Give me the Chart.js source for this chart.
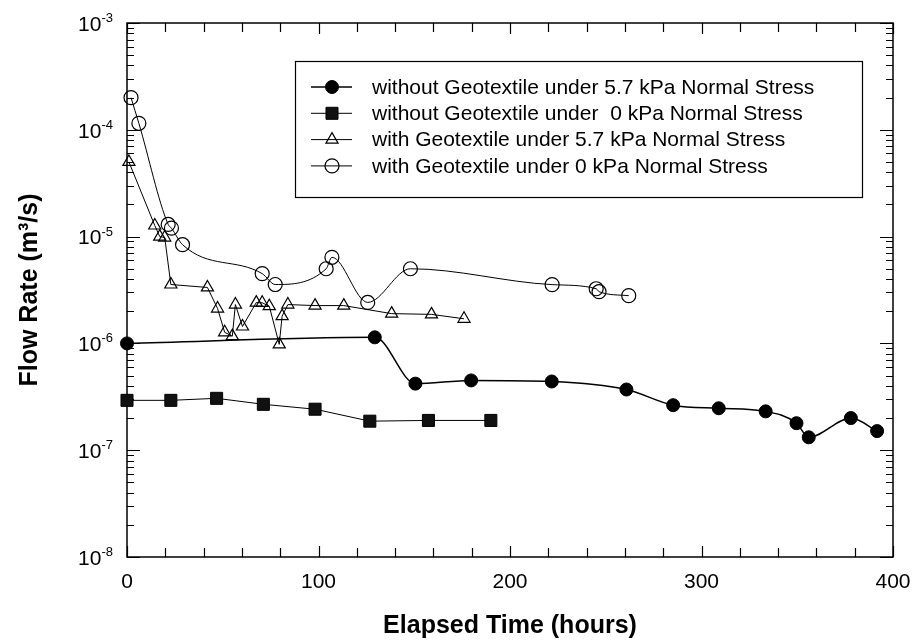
<!DOCTYPE html>
<html><head><meta charset="utf-8">
<script src="https://cdn.jsdelivr.net/npm/chart.js@4.4.1/dist/chart.umd.min.js"></script>
<style>html,body{margin:0;padding:0;background:#fff}#wrap{width:915px;height:640px}</style>
</head><body><div id="wrap"><canvas id="c" width="915" height="640"></canvas></div>
<script>
// ---- data ----
const seriesLabels = [
  'without Geotextile under 5.7 kPa Normal Stress',
  'without Geotextile under  0 kPa Normal Stress',
  'with Geotextile under 5.7 kPa Normal Stress',
  'with Geotextile under 0 kPa Normal Stress'
];
const hoursNoGeo57 = [0, 129.4, 150.6, 179.7, 221.8, 260.8, 285.2, 309, 333.5, 349.6, 356, 378, 391.7];
const flowNoGeo57  = [1.0e-6, 1.14e-6, 4.2e-7, 4.5e-7, 4.4e-7, 3.7e-7, 2.64e-7, 2.47e-7, 2.31e-7, 1.79e-7, 1.32e-7, 2.0e-7, 1.51e-7];

const hoursNoGeo0 = [0, 22.9, 46.8, 71.2, 98.2, 126.8, 157.4, 190];
const flowNoGeo0  = [2.93e-7, 2.93e-7, 3.06e-7, 2.69e-7, 2.42e-7, 1.87e-7, 1.9e-7, 1.9e-7];

const hoursGeo57 = [1, 14.5, 17.1, 19.7, 22.9, 42, 47.3, 51, 55, 56.6, 60.3, 67.5, 70.6, 74.3, 79.5, 81, 84, 98.2, 113.2, 138.2, 159, 176];
const flowGeo57  = [5.0e-5, 1.27e-5, 1.0e-5, 9.8e-6, 3.56e-6, 3.34e-6, 2.12e-6, 1.27e-6, 1.17e-6, 2.31e-6, 1.44e-6, 2.41e-6, 2.4e-6, 2.23e-6, 9.8e-7, 1.8e-6, 2.31e-6, 2.26e-6, 2.26e-6, 1.9e-6, 1.87e-6, 1.7e-6];

const hoursGeo0 = [2.1, 6.2, 21.5, 23.2, 29, 70.6, 77.4, 104, 107, 125.7, 148, 222, 245, 246.5, 262];
const flowGeo0  = [2.0e-4, 1.15e-4, 1.3e-5, 1.2e-5, 8.4e-6, 4.5e-6, 3.56e-6, 5.0e-6, 6.4e-6, 2.42e-6, 5.0e-6, 3.55e-6, 3.25e-6, 3.05e-6, 2.8e-6];

const xTickLabels = ['0', '100', '200', '300', '400'];
const yDecades = [-8, -7, -6, -5, -4, -3];
const xTitle = 'Elapsed Time (hours)';
const yTitle = 'Flow Rate (m\u00B3/s)';

// ---- build ----
const pts = (xs, ys) => xs.map((x, i) => ({x, y: ys[i]}));
const FONT = '"Liberation Sans", Arial, Helvetica, sans-serif';

const decor = {
  id: 'decor',
  beforeDatasetsDraw(chart) {
    const {ctx, chartArea: a, scales: {x, y}} = chart;
    ctx.save();
    ctx.strokeStyle = '#000';
    ctx.lineWidth = 1.5;
    ctx.strokeRect(a.left, a.top, a.right - a.left, a.bottom - a.top);
    ctx.lineWidth = 1.2;
    ctx.beginPath();
    // y ticks (log), inward on left and right
    for (const e of yDecades) {
      for (let k = 1; k <= 9; k++) {
        const v = k * Math.pow(10, e);
        if (v > y.max * 1.0001) break;
        const py = Math.round(y.getPixelForValue(v)) + 0.5;
        const len = k === 1 ? 13 : 7;
        ctx.moveTo(a.left, py); ctx.lineTo(a.left + len, py);
        ctx.moveTo(a.right, py); ctx.lineTo(a.right - len, py);
      }
    }
    // x ticks every 20 h, inward on bottom and top
    for (let v = x.min; v <= x.max; v += 20) {
      const px = Math.round(x.getPixelForValue(v)) + 0.5;
      const len = (v % 100 === 0) ? 11 : 9;
      ctx.moveTo(px, a.bottom); ctx.lineTo(px, a.bottom - len);
      ctx.moveTo(px, a.top); ctx.lineTo(px, a.top + len);
    }
    ctx.stroke();
    ctx.restore();
  },
  afterDraw(chart) {
    const {ctx, chartArea: a, scales: {x, y}} = chart;
    ctx.save();
    ctx.fillStyle = '#000';
    // y tick labels 10^n
    for (const e of yDecades) {
      const py = y.getPixelForValue(Math.pow(10, e));
      const sup = String(e);
      ctx.font = '13px ' + FONT;
      const ws = ctx.measureText(sup).width;
      const right = a.left - 14;
      ctx.textAlign = 'left';
      ctx.textBaseline = 'alphabetic';
      ctx.fillText(sup, right - ws, py - 1);
      ctx.font = '21px ' + FONT;
      ctx.textAlign = 'right';
      ctx.textBaseline = 'middle';
      ctx.fillText('10', right - ws, py + 2);
    }
    // x tick labels
    ctx.font = '21px ' + FONT;
    ctx.textAlign = 'center';
    ctx.textBaseline = 'middle';
    xTickLabels.forEach(t => {
      ctx.fillText(t, x.getPixelForValue(Number(t)), a.bottom + 25);
    });
    // axis titles
    ctx.font = 'bold 25px ' + FONT;
    ctx.textAlign = 'center';
    ctx.textBaseline = 'alphabetic';
    ctx.fillText(xTitle, (a.left + a.right) / 2, a.bottom + 76);
    ctx.save();
    ctx.translate(37, (a.top + a.bottom) / 2);
    ctx.rotate(-Math.PI / 2);
    ctx.fillText(yTitle, 0, 0);
    ctx.restore();
    // legend box
    const L = a.left + 168, T = a.top + 38, W = 567, H = 136;
    ctx.lineWidth = 1.2;
    ctx.strokeStyle = '#000';
    ctx.strokeRect(L + 0.5, T + 0.5, W, H);
    chart.data.datasets.forEach((ds, i) => {
      const ry = T + 26 + i * 26.3;
      ctx.beginPath();
      ctx.lineWidth = ds.borderWidth;
      ctx.strokeStyle = ds.borderColor;
      ctx.moveTo(L + 16, ry); ctx.lineTo(L + 57, ry);
      ctx.stroke();
      ctx.fillStyle = ds.pointBackgroundColor;
      ctx.strokeStyle = ds.pointBorderColor;
      ctx.lineWidth = ds.pointBorderWidth;
      Chart.helpers.drawPoint(ctx, {pointStyle: ds.pointStyle, radius: ds.pointRadius, rotation: 0, borderWidth: ds.pointBorderWidth}, L + 37, ry);
      ctx.fillStyle = '#000';
      ctx.font = '21px ' + FONT;
      ctx.textAlign = 'left';
      ctx.textBaseline = 'middle';
      ctx.fillText(ds.label, L + 77, ry + 1);
    });
    ctx.restore();
  }
};

new Chart(document.getElementById('c'), {
  type: 'line',
  data: {
    datasets: [
      {label: seriesLabels[0], data: pts(hoursNoGeo57, flowNoGeo57), borderColor: '#000', borderWidth: 1.5,
       pointStyle: 'circle', pointRadius: 6.5, pointBackgroundColor: '#000', pointBorderColor: '#000', pointBorderWidth: 1,
       cubicInterpolationMode: 'monotone', clip: false},
      {label: seriesLabels[1], data: pts(hoursNoGeo0, flowNoGeo0), borderColor: '#000', borderWidth: 1,
       pointStyle: 'rect', pointRadius: 8.5, pointBackgroundColor: '#111', pointBorderColor: '#000', pointBorderWidth: 1,
       tension: 0, clip: false},
      {label: seriesLabels[2], data: pts(hoursGeo57, flowGeo57), borderColor: '#000', borderWidth: 1,
       pointStyle: 'triangle', pointRadius: 7, pointBackgroundColor: 'rgba(255,255,255,0)', pointBorderColor: '#000', pointBorderWidth: 1.2,
       tension: 0, clip: false},
      {label: seriesLabels[3], data: pts(hoursGeo0, flowGeo0), borderColor: '#000', borderWidth: 1,
       pointStyle: 'circle', pointRadius: 7, pointBackgroundColor: 'rgba(255,255,255,0)', pointBorderColor: '#000', pointBorderWidth: 1.2,
       cubicInterpolationMode: 'monotone', clip: false}
    ]
  },
  options: {
    responsive: false,
    animation: false,
    devicePixelRatio: 1,
    layout: {padding: {left: 127, right: 22, top: 23, bottom: 83}},
    scales: {
      x: {type: 'linear', min: 0, max: 400, display: false},
      y: {type: 'logarithmic', min: 1e-8, max: 1e-3, display: false}
    },
    plugins: {legend: {display: false}, tooltip: {enabled: false}}
  },
  plugins: [decor]
});
</script>
</body></html>
